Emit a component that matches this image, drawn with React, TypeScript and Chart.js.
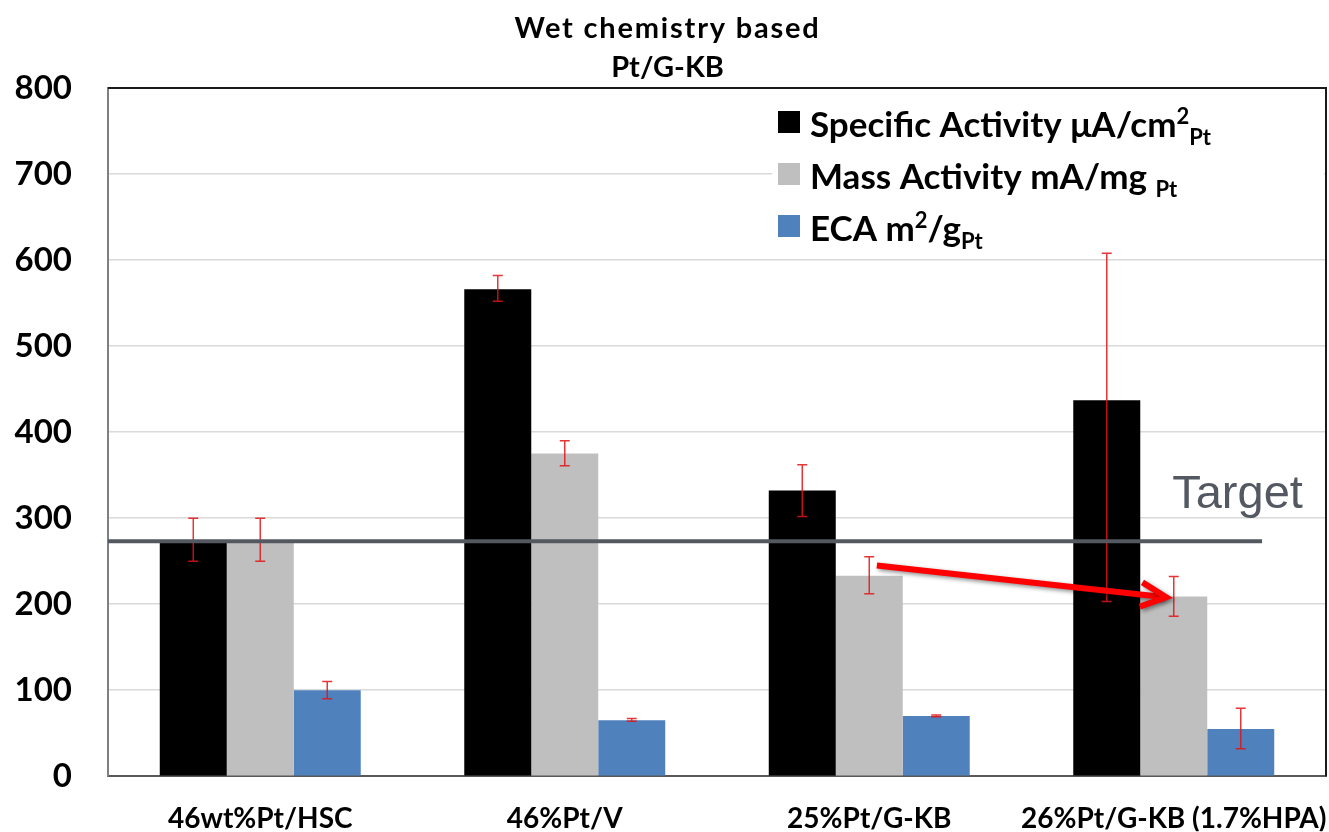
import React, { useEffect, useRef } from "react";
import { Chart, registerables } from "chart.js";
Chart.register(...registerables);

// ---------- data ----------
const categories = ["46wt%Pt/HSC", "46%Pt/V", "25%Pt/G-KB", "26%Pt/G-KB (1.7%HPA)"];
const seriesNames = ["Specific Activity μA/cm2Pt", "Mass Activity mA/mg Pt", "ECA m2/gPt"];
const specificActivity = [273, 566, 332, 437];
const massActivity = [273, 375, 233, 209];
const ecaValues = [100, 65, 70, 55];
const specificErrLow = [250, 552, 302, 203];
const specificErrHigh = [300, 582, 362, 608];
const massErrLow = [250, 361, 212, 186];
const massErrHigh = [300, 390, 255, 232];
const ecaErrLow = [90, 64, 69, 32];
const ecaErrHigh = [110, 67, 71, 79];
const yTicks = [0, 100, 200, 300, 400, 500, 600, 700, 800];
const titleLines = ["Wet chemistry based", "Pt/G-KB"];
const targetValue = 273;
const targetLabel = "Target";
// legend rich text: [text, kind] kind 0 normal, 1 superscript, -1 subscript
const legendParts: [string, number][][] = [
  [["Specific Activity μA/cm", 0], ["2", 1], ["Pt", -1]],
  [["Mass Activity mA/mg ", 0], ["Pt", -1]],
  [["ECA m", 0], ["2", 1], ["/g", 0], ["Pt", -1]],
];
// arrow annotation in (category index, value) space
const arrowFrom = [2.025, 245];
const arrowTo = [2.975, 208];

const COLORS = ["#000000", "#bfbfbf", "#4f81bd"];
const FONT = "Lato";

export default function App() {
  const ref = useRef<HTMLCanvasElement>(null);
  useEffect(() => {
    document.body.style.margin = "0";
    const canvas = ref.current!;
    const errLow = [specificErrLow, massErrLow, ecaErrLow];
    const errHigh = [specificErrHigh, massErrHigh, ecaErrHigh];

    const overlay = {
      id: "overlay",
      beforeDatasetsDraw(chart: any) {
        const ctx = chart.ctx;
        const area = chart.chartArea;
        ctx.save();
        // legend background
        ctx.fillStyle = "#ffffff";
        ctx.fillRect(772, 96, area.right - 2 - 772, 156);
        const baselines = [137, 189, 241];
        const size = 35;
        legendParts.forEach((parts, i) => {
          const by = baselines[i];
          ctx.fillStyle = COLORS[i];
          ctx.fillRect(778, by - 26, 22, 22);
          let x = 810;
          ctx.fillStyle = "#000";
          ctx.textBaseline = "alphabetic";
          ctx.textAlign = "left";
          for (const [t, k] of parts) {
            const fs = k === 0 ? size : Math.round(size * 0.62);
            ctx.font = `bold ${fs}px ${FONT}`;
            const dy = k === 1 ? -size * 0.36 : k === -1 ? size * 0.24 : 0;
            ctx.fillText(t, x, by + dy);
            x += ctx.measureText(t).width;
          }
        });
        ctx.restore();
      },
      afterDatasetsDraw(chart: any) {
        const ctx = chart.ctx;
        const xs = chart.scales.x;
        const ys = chart.scales.y;
        const area = chart.chartArea;
        ctx.save();
        // error bars
        ctx.strokeStyle = "rgba(225,20,20,0.85)";
        ctx.lineWidth = 1.5;
        for (let d = 0; d < 3; d++) {
          const meta = chart.getDatasetMeta(d);
          meta.data.forEach((bar: any, j: number) => {
            const x = bar.x;
            const y1 = ys.getPixelForValue(errHigh[d][j]);
            const y2 = ys.getPixelForValue(errLow[d][j]);
            ctx.beginPath();
            ctx.moveTo(x, y1);
            ctx.lineTo(x, y2);
            ctx.moveTo(x - 5, y1);
            ctx.lineTo(x + 5, y1);
            ctx.moveTo(x - 5, y2);
            ctx.lineTo(x + 5, y2);
            ctx.stroke();
          });
        }
        // target line
        const ty = ys.getPixelForValue(targetValue);
        ctx.strokeStyle = "#535861";
        ctx.lineWidth = 4;
        ctx.beginPath();
        ctx.moveTo(area.left, ty);
        ctx.lineTo(xs.getPixelForValue(3.29), ty);
        ctx.stroke();
        ctx.fillStyle = "#535861";
        ctx.font = `47px "Liberation Sans", Arial, sans-serif`;
        ctx.textAlign = "left";
        ctx.textBaseline = "alphabetic";
        ctx.fillText(targetLabel, xs.getPixelForValue(2.995), ys.getPixelForValue(312));
        // arrow
        const ax1 = xs.getPixelForValue(arrowFrom[0]);
        const ay1 = ys.getPixelForValue(arrowFrom[1]);
        const ax2 = xs.getPixelForValue(arrowTo[0]);
        const ay2 = ys.getPixelForValue(arrowTo[1]);
        const ang = Math.atan2(ay2 - ay1, ax2 - ax1);
        const head = 28;
        ctx.shadowColor = "rgba(0,0,0,0.45)";
        ctx.shadowBlur = 4;
        ctx.shadowOffsetX = 2;
        ctx.shadowOffsetY = 2;
        ctx.strokeStyle = "#ff0000";
        ctx.lineWidth = 6;
        ctx.lineCap = "butt";
        ctx.lineJoin = "miter";
        ctx.beginPath();
        ctx.moveTo(ax1, ay1);
        ctx.lineTo(ax2 - 3 * Math.cos(ang), ay2 - 3 * Math.sin(ang));
        ctx.stroke();
        ctx.beginPath();
        ctx.moveTo(ax2 - head * Math.cos(ang - 0.45), ay2 - head * Math.sin(ang - 0.45));
        ctx.lineTo(ax2, ay2);
        ctx.lineTo(ax2 - head * Math.cos(ang + 0.45), ay2 - head * Math.sin(ang + 0.45));
        ctx.stroke();
        ctx.restore();
      },
      afterDraw(chart: any) {
        const ctx = chart.ctx;
        const area = chart.chartArea;
        ctx.save();
        // frame top/right
        ctx.strokeStyle = "#1a1a1a";
        ctx.lineWidth = 2;
        ctx.beginPath();
        ctx.moveTo(area.left, area.top);
        ctx.lineTo(area.right, area.top);
        ctx.lineTo(area.right, area.bottom);
        ctx.stroke();
        // title
        ctx.fillStyle = "#000";
        ctx.textAlign = "center";
        ctx.textBaseline = "alphabetic";
        ctx.font = `bold 29px ${FONT}`;
        const cx = chart.width / 2 + 3;
        (ctx as any).letterSpacing = "1.8px";
        ctx.fillText(titleLines[0], cx, 38);
        (ctx as any).letterSpacing = "0px";
        ctx.fillText(titleLines[1], cx, 77);
        ctx.restore();
      },
    };

    const chart = new Chart(canvas, {
      type: "bar",
      data: {
        labels: categories,
        datasets: [
          { label: seriesNames[0], data: specificActivity, backgroundColor: COLORS[0], borderWidth: 0 },
          { label: seriesNames[1], data: massActivity, backgroundColor: COLORS[1], borderWidth: 0 },
          { label: seriesNames[2], data: ecaValues, backgroundColor: COLORS[2], borderWidth: 0 },
        ],
      },
      options: {
        responsive: false,
        animation: false,
        devicePixelRatio: 1,
        layout: { padding: { top: 88, right: 3, left: 0, bottom: 0 } },
        datasets: { bar: { categoryPercentage: 0.66, barPercentage: 1.0 } },
        plugins: {
          legend: { display: false },
          title: { display: false },
          tooltip: { enabled: false },
        },
        scales: {
          x: {
            grid: { display: false, drawTicks: false },
            border: { display: true, color: "#595959", width: 2 },
            ticks: {
              font: { family: FONT, weight: "bold", size: 28 },
              color: "#000",
              padding: 26,
              maxRotation: 0,
              autoSkip: false,
            },
            afterFit(s: any) {
              s.height = 55;
              s.paddingLeft = 0;
              s.paddingRight = 0;
            },
          },
          y: {
            min: 0,
            max: 800,
            ticks: {
              font: { family: FONT, weight: "bold", size: 33 },
              color: "#000",
              padding: 36,
            },
            afterBuildTicks(s: any) {
              s.ticks = yTicks.map((v) => ({ value: v }));
            },
            grid: { color: "#d9d9d9", lineWidth: 1.5, drawTicks: false },
            border: { color: "#808080", width: 2 },
            afterFit(s: any) {
              s.width = 108;
            },
          },
        },
      } as any,
      plugins: [overlay],
    });
    return () => chart.destroy();
  }, []);
  return (
    <div style={{ width: 1329, height: 832 }}>
      <canvas ref={ref} width={1329} height={832} style={{ display: "block" }} />
    </div>
  );
}
